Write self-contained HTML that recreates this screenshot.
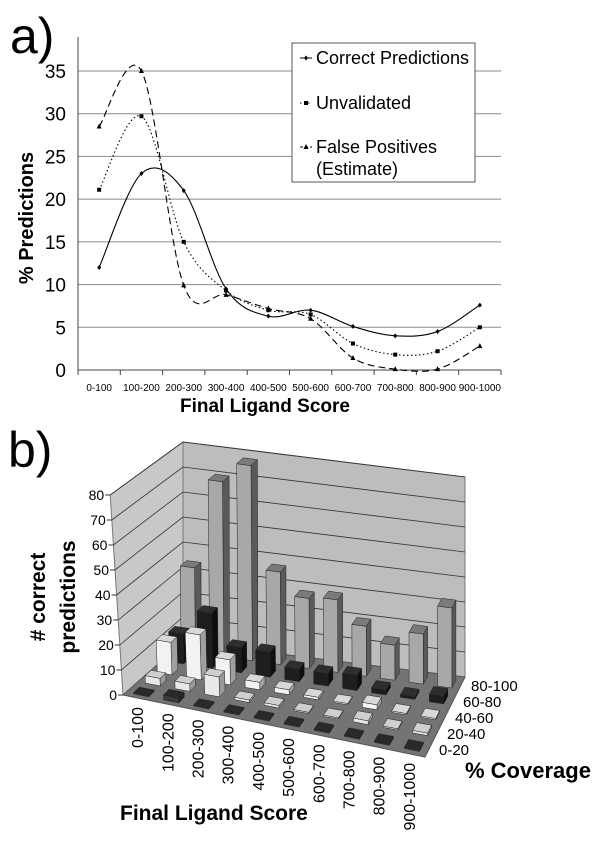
<!DOCTYPE html>
<html><head><meta charset="utf-8"><style>
html,body{margin:0;padding:0;background:#fff;}
svg{display:block;font-family:"Liberation Sans",Arial,sans-serif;}
</style></head><body>
<svg id="fig" width="600" height="851" viewBox="0 0 600 851">
<text x="10" y="53" font-size="50">a)</text>
<g id="chartA"></g>
<text x="8" y="467" font-size="50">b)</text>
<g id="chartB"></g>
</svg>
<script>
// ---------- Chart A data ----------
const catsA = ["0-100","100-200","200-300","300-400","400-500","500-600","600-700","700-800","800-900","900-1000"];
const correct = [12, 23, 21, 9.5, 6.3, 7, 5.1, 4, 4.5, 7.6];
const unvalidated = [21.1, 29.7, 15, 9.3, 7, 6.5, 3.1, 1.8, 2.2, 5];
const falsePos = [28.5, 35, 9.9, 8.8, 7.2, 6, 1.4, 0.1, 0.1, 2.8];
const yTicksA = [0, 5, 10, 15, 20, 25, 30, 35];

// ---------- Chart B data ----------
const catsB = ["0-100","100-200","200-300","300-400","400-500","500-600","600-700","700-800","800-900","900-1000"];
const coverage = ["0-20","20-40","40-60","60-80","80-100"];
const cov0 = [0.5, 2, 0.5, 0.5, 0.5, 0.5, 0.5, 0.5, 0.5, 0.5];
const cov20 = [3, 3, 8, 1, 1, 0.5, 0.5, 1.5, 0.5, 1];
const cov40 = [13, 18, 10, 3, 2, 1, 0.5, 2, 0.5, 0.5];
const cov60 = [12, 22, 10, 10, 5, 5, 6, 2, 1, 3];
const cov80 = [34, 70, 78, 37, 28, 29, 20, 14, 20, 32];
const yTicksB = [0, 10, 20, 30, 40, 50, 60, 70, 80];

const NS = "http://www.w3.org/2000/svg";
function mk(parent, tag, attrs, text){
  const e = document.createElementNS(NS, tag);
  for (const k in attrs) e.setAttribute(k, attrs[k]);
  if (text !== undefined) e.textContent = text;
  parent.appendChild(e);
  return e;
}

// ===== Chart A =====
(function(){
  const g = document.getElementById('chartA');
  const x0 = 78, x1 = 501, yBase = 370, yTop = 71;
  const xs = i => x0 + (i + 0.5) * (x1 - x0) / catsA.length;
  const ys = v => yBase - v * (yBase - yTop) / 35;
  yTicksA.forEach(t => {
    if (t > 0) {
      const l = mk(g, 'line', {x1:x0, x2:x1, y1:ys(t), y2:ys(t), stroke:'#8a8a8a', 'stroke-width':1});
      
      
    }
    const tx = mk(g, 'text', {x:66, y:ys(t)+7, 'font-size':19, 'text-anchor':'end'}, String(t));
    
    
  });
  const ax = mk(g, 'line', {x1:x0, x2:x0, y1:37, y2:yBase, stroke:'#444', 'stroke-width':1});
  
  
  const bx = mk(g, 'line', {x1:x0, x2:x1, y1:yBase, y2:yBase, stroke:'#444', 'stroke-width':1});
  
  
  for (let i = 0; i <= catsA.length; i++) {
    const x = x0 + i * (x1 - x0) / catsA.length;
    mk(g, 'line', {x1:x, x2:x, y1:yBase, y2:yBase+5, stroke:'#444'});
  }
  catsA.forEach((c, i) => {
    const t = mk(g, 'text', {x:xs(i), y:391, 'font-size':10, 'text-anchor':'middle'}, c);
    
    
  });
  const xt = mk(g, 'text', {x:265, y:412, 'font-size':19, 'font-weight':'bold', 'text-anchor':'middle'}, 'Final Ligand Score');
  
  
  const yt = mk(g, 'text', {x:0, y:0, 'font-size':20, 'font-weight':'bold', 'text-anchor':'middle', transform:'translate(33,218) rotate(-90)'}, '% Predictions');
  
  

  function smooth(vals){
    const p = vals.map((v, i) => [xs(i), ys(v)]);
    let d = 'M' + p[0][0] + ',' + p[0][1];
    for (let i = 0; i < p.length - 1; i++) {
      const a = p[Math.max(0, i-1)], b = p[i], c = p[i+1], e = p[Math.min(p.length-1, i+2)];
      const c1 = [b[0] + (c[0]-a[0])/6, b[1] + (c[1]-a[1])/6];
      const c2 = [c[0] - (e[0]-b[0])/6, c[1] - (e[1]-b[1])/6];
      d += ' C' + c1[0] + ',' + c1[1] + ' ' + c2[0] + ',' + c2[1] + ' ' + c[0] + ',' + c[1];
    }
    return d;
  }
  function marker(type, x, y){
    if (type === 'square') return mk(g, 'rect', {x:x-2, y:y-2, width:4, height:4, fill:'#000'});
    if (type === 'triangle') return mk(g, 'polygon', {points:(x)+','+(y-3)+' '+(x-2.5)+','+(y+2)+' '+(x+2.5)+','+(y+2), fill:'#000'});
    return mk(g, 'polygon', {points:x+','+(y-2.5)+' '+(x+2)+','+y+' '+x+','+(y+2.5)+' '+(x-2)+','+y, fill:'#000'});
  }
  const series = [
    {vals: correct, dash: 'none', name: 'correct-predictions', marker: 'diamond'},
    {vals: unvalidated, dash: '1.5,2.5', name: 'unvalidated', marker: 'square'},
    {vals: falsePos, dash: '7,4', name: 'false-positives', marker: 'triangle'}
  ];
  series.forEach(s => {
    const p = mk(g, 'path', {d: smooth(s.vals), fill:'none', stroke:'#000', 'stroke-width':1.1, 'stroke-dasharray': s.dash});
    
    
    s.vals.forEach((v, i) => {
      const m = marker(s.marker, xs(i), ys(v));
      
      
    });
  });
  const lg = mk(g, 'g', {});
  
  
  mk(lg, 'rect', {x:292, y:43, width:183, height:139, fill:'#fff', stroke:'#555', 'stroke-width':1});
  const entries = [['Correct Predictions', 64, 'none', 'diamond'], ['Unvalidated', 109, '1.5,2.5', 'square'], ['False Positives', 153, '3,2', 'triangle']];
  entries.forEach(e => {
    mk(lg, 'line', {x1:300, x2:312, y1:e[1]-6, y2:e[1]-6, stroke:'#000', 'stroke-dasharray': e[2]});
    const m = marker(e[3], 306, e[1]-6);
    lg.appendChild(m);
    const t = mk(lg, 'text', {x:316, y:e[1], 'font-size':18}, e[0]);
    
    
  });
  mk(lg, 'text', {x:316, y:175, 'font-size':18}, '(Estimate)');
})();

// ===== Chart B =====
(function(){
  const g = document.getElementById('chartB');
  const FL = [123,695], FR = [425,757], BL = [183,642], BR = [465,677];
  const hs = 2.5;
  function floor(u, w){
    return [FL[0]*(1-u)*(1-w) + FR[0]*u*(1-w) + BL[0]*(1-u)*w + BR[0]*u*w,
            FL[1]*(1-u)*(1-w) + FR[1]*u*(1-w) + BL[1]*(1-u)*w + BR[1]*u*w];
  }
  function P(u, w, v){ const f = floor(u, w); return [f[0] - (1-w)*(1-u)*v*0.16, f[1] - v*hs]; }
  const pts = a => a.map(p => p[0].toFixed(1)+','+p[1].toFixed(1)).join(' ');
  const top = 80;
  const lw = mk(g, 'polygon', {points: pts([P(0,0,0), P(0,0,top), P(0,1,top), P(0,1,0)]), fill:'#c8c8c8', stroke:'#777'});
  
  
  const bw = mk(g, 'polygon', {points: pts([P(0,1,0), P(0,1,top), P(1,1,top), P(1,1,0)]), fill:'#bdbdbd', stroke:'#777'});
  
  
  const fl = mk(g, 'polygon', {points: pts([P(0,0,0), P(1,0,0), P(1,1,0), P(0,1,0)]), fill:'#747474', stroke:'#555'});
  
  
  yTicksB.forEach(t => {
    if (t > 0) {
      mk(g, 'polyline', {points: pts([P(0,0,t), P(0,1,t), P(1,1,t)]), fill:'none', stroke:'#333', 'stroke-width':0.8});
    }
    const a = P(0,0,t);
    mk(g, 'line', {x1:a[0]-5, x2:a[0], y1:a[1], y2:a[1], stroke:'#333'});
    const tx = mk(g, 'text', {x:a[0]-6, y:a[1]+5, 'font-size':14, 'text-anchor':'end'}, String(t));
    
    
  });
  const rows = [cov0, cov20, cov40, cov60, cov80];
  const front = ['#3a3a3a', '#e8e8e8', '#f2f2f2', '#1e1e1e', '#a8a8a8'];
  const topc = ['#2a2a2a', '#cfcfcf', '#d8d8d8', '#2e2e2e', '#7a7a7a'];
  const side = ['#222', '#9a9a9a', '#a0a0a0', '#0e0e0e', '#5a5a5a'];
  for (let j = rows.length - 1; j >= 0; j--) {
    const w0 = (j + 0.25) / 5, w1 = (j + 0.75) / 5;
    rows[j].forEach((v, i) => {
      const u0 = (i + 0.25) / 10, u1 = (i + 0.75) / 10;
      const bg = mk(g, 'g', {});
      
      
      mk(bg, 'polygon', {points: pts([P(u1,w0,0), P(u1,w0,v), P(u1,w1,v), P(u1,w1,0)]), fill: side[j], stroke:'#222', 'stroke-width':0.5});
      mk(bg, 'polygon', {points: pts([P(u0,w0,0), P(u0,w0,v), P(u1,w0,v), P(u1,w0,0)]), fill: front[j], stroke:'#222', 'stroke-width':0.5});
      mk(bg, 'polygon', {points: pts([P(u0,w0,v), P(u0,w1,v), P(u1,w1,v), P(u1,w0,v)]), fill: topc[j], stroke:'#222', 'stroke-width':0.5});
    });
  }
  catsB.forEach((c, i) => {
    const a = floor((i + 0.5) / 10, 0);
    const t = mk(g, 'text', {x:0, y:0, 'font-size':16, 'text-anchor':'end', transform:'translate(' + (a[0]+5).toFixed(1) + ',' + (a[1]+9).toFixed(1) + ') rotate(-90)'}, c);
    
    
  });
  coverage.forEach((c, j) => {
    const a = floor(1, (j + 0.5) / 5);
    const t = mk(g, 'text', {x:a[0]+10, y:a[1]+6, 'font-size':15}, c);
    
    
  });
  const xt = mk(g, 'text', {x:120, y:820, 'font-size':21, 'font-weight':'bold'}, 'Final Ligand Score');
  
  
  const zt = mk(g, 'text', {x:465, y:778, 'font-size':22, 'font-weight':'bold'}, '% Coverage');
  
  
  const yt = mk(g, 'text', {x:0, y:0, 'font-size':21, 'font-weight':'bold', 'text-anchor':'middle', transform:'translate(45,597) rotate(-90)'}, '# correct');
  
  
  const yt2 = mk(g, 'text', {x:0, y:0, 'font-size':21, 'font-weight':'bold', 'text-anchor':'middle', transform:'translate(75,597) rotate(-90)'}, 'predictions');
  
  
})();
</script>
</body></html>
